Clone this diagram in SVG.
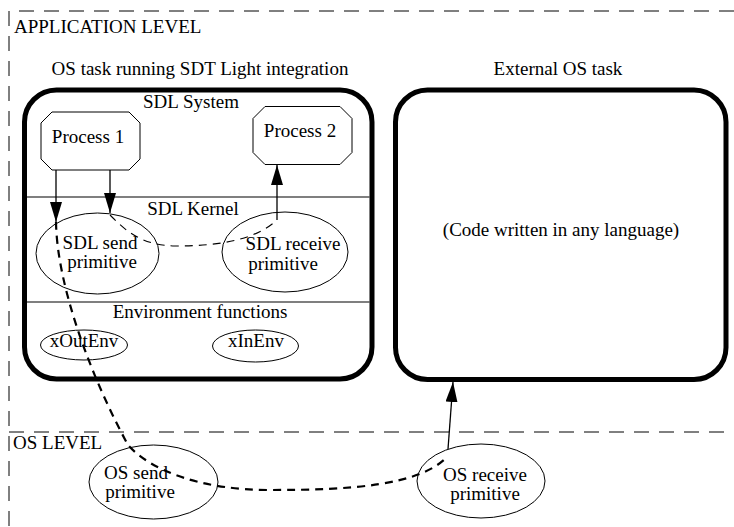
<svg xmlns="http://www.w3.org/2000/svg" width="734" height="527" viewBox="0 0 734 527">
  <defs>
    <marker id="arrow" markerUnits="userSpaceOnUse" markerWidth="20" markerHeight="12" viewBox="0 0 20 12" refX="20" refY="6" orient="auto">
      <path d="M0,0 L20,6 L0,12 Z" fill="#000"/>
    </marker>
    <style>
      text { font-family: "Liberation Serif", "Times New Roman", serif; font-size: 19px; fill: #000; }
      .mid { text-anchor: middle; }
      .level { fill: none; stroke: #000; stroke-width: 1; stroke-dasharray: 15 10; }
      .task { fill: #fff; stroke: #000; stroke-width: 5; }
      .sep { stroke: #000; stroke-width: 1.2; }
      .proc { fill: #fff; stroke: #000; stroke-width: 1; }
      .prim { fill: #fff; stroke: #000; stroke-width: 1; }
      .flow { fill: none; stroke: #000; stroke-width: 1.3; }
      .call { fill: none; stroke: #000; stroke-width: 1.1; stroke-dasharray: 8 6; }
      .signal { fill: none; stroke: #000; stroke-width: 2.2; stroke-dasharray: 8 6; }
    </style>
  </defs>

  <rect width="734" height="527" fill="#fff"/>

  <!-- level boundaries -->
  <g id="levels">
    <path class="level" d="M734,11 H9 V527"/>
    <path class="level" d="M9,432 H734"/>
    <text x="14" y="33">APPLICATION LEVEL</text>
    <text x="13" y="449">OS LEVEL</text>
  </g>

  <!-- OS task with the SDT Light integration -->
  <g id="sdt-task">
    <text class="mid" x="200" y="75">OS task running SDT Light integration</text>
    <rect class="task" x="24.5" y="90" width="347.5" height="289" rx="32" ry="32"/>
    <line class="sep" x1="27" y1="197" x2="369.5" y2="197"/>
    <line class="sep" x1="27" y1="302" x2="369.5" y2="302"/>
    <text class="mid" x="191" y="108">SDL System</text>
    <text class="mid" x="193" y="215">SDL Kernel</text>
    <text class="mid" x="200" y="318">Environment functions</text>
  </g>

  <g id="process1">
    <polygon class="proc" points="52,112 129,112 140,123 140,159 129,170 52,170 41,159 41,123"/>
    <text class="mid" x="88" y="143">Process 1</text>
  </g>

  <g id="process2">
    <polygon class="proc" points="265,106.5 340,106.5 352,118.5 352,152.5 340,164.5 265,164.5 253,152.5 253,118.5"/>
    <text class="mid" x="300" y="137">Process 2</text>
  </g>

  <g id="sdl-send">
    <ellipse class="prim" cx="97.5" cy="253.5" rx="61.5" ry="40.5"/>
    <text class="mid" x="100" y="249">SDL send</text>
    <text class="mid" x="102" y="268">primitive</text>
  </g>

  <g id="sdl-receive">
    <ellipse class="prim" cx="285" cy="252" rx="63" ry="40"/>
    <text class="mid" x="293" y="250">SDL receive</text>
    <text class="mid" x="283" y="270">primitive</text>
  </g>

  <g id="xOutEnv">
    <ellipse class="prim" cx="84" cy="345" rx="43.5" ry="15"/>
    <text class="mid" x="84" y="347">xOutEnv</text>
  </g>

  <g id="xInEnv">
    <ellipse class="prim" cx="255.5" cy="346" rx="43" ry="16"/>
    <text class="mid" x="256" y="347">xInEnv</text>
  </g>

  <!-- external task -->
  <g id="external-task">
    <text class="mid" x="558" y="75">External OS task</text>
    <rect class="task" x="395.5" y="90" width="330.5" height="289.5" rx="32" ry="32"/>
    <text class="mid" x="561" y="236">(Code written in any language)</text>
  </g>

  <g id="os-send">
    <ellipse class="prim" cx="153.5" cy="482" rx="64.5" ry="37"/>
    <text class="mid" x="136" y="479">OS send</text>
    <text class="mid" x="140" y="498">primitive</text>
  </g>

  <g id="os-receive">
    <ellipse class="prim" cx="481" cy="481" rx="64" ry="37"/>
    <text class="mid" x="485" y="481">OS receive</text>
    <text class="mid" x="485" y="500">primitive</text>
  </g>

  <!-- connectors -->
  <g id="connectors">
    <line class="flow" x1="56" y1="170" x2="56" y2="222" marker-end="url(#arrow)"/>
    <line class="flow" x1="110" y1="170" x2="110" y2="213" marker-end="url(#arrow)"/>
    <line class="flow" x1="277" y1="220" x2="277" y2="165" marker-end="url(#arrow)"/>
    <line class="flow" x1="448" y1="449" x2="453" y2="382" marker-end="url(#arrow)"/>
    <!-- internal signal path through the kernel -->
    <path class="call" d="M110,215 C125,230 140,245 175,246 C220,246 255,240 277,220"/>
    <!-- signal path leaving the task through the OS -->
    <path class="signal" d="M56,222 C57,285 90,375 128,445 C150,470 200,490 270,490 C350,490 420,486 448,456"/>
  </g>
</svg>
